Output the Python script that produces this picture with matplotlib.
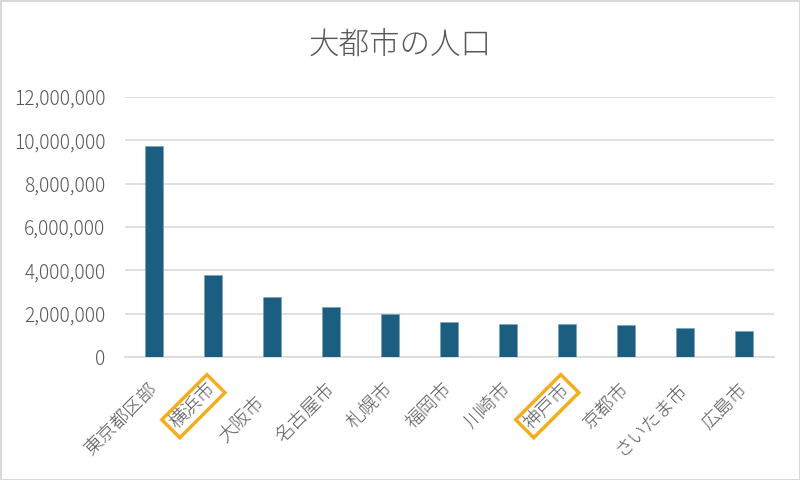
import matplotlib
matplotlib.use("Agg")
import matplotlib.pyplot as plt
from matplotlib.ticker import FuncFormatter
from matplotlib.transforms import offset_copy

plt.rcParams['font.family'] = ['Noto Sans CJK JP', 'DejaVu Sans']
plt.rcParams['font.weight'] = 'light'

cities = ["東京都区部", "横浜市", "大阪市", "名古屋市", "札幌市", "福岡市",
          "川崎市", "神戸市", "京都市", "さいたま市", "広島市"]
population = [9733276, 3777491, 2752412, 2332176, 1973395, 1612392,
              1538262, 1525152, 1463723, 1324025, 1200754]
highlighted = ["横浜市", "神戸市"]

text_color = "#595959"
grid_color = "#D9D9D9"
bar_color = "#1B5E80"
box_color = "#F2AE1C"

fig = plt.figure(figsize=(8, 4.8), dpi=100)
fig.patch.set_facecolor("white")
fig.patch.set_edgecolor(grid_color)
fig.patch.set_linewidth(2)

ax = fig.add_axes([0.156, 0.256, 0.811, 0.542])
x = list(range(len(cities)))
ax.bar(x, population, width=0.3, color=bar_color, edgecolor="#6FA3BD",
       linewidth=0.4, zorder=3)

ax.set_xlim(-0.5, len(cities) - 0.5)
ax.set_ylim(0, 12000000)
ax.set_yticks(range(0, 12000001, 2000000))
ax.yaxis.set_major_formatter(FuncFormatter(lambda v, p: f"{int(v):,}"))
ax.grid(axis="y", color=grid_color, linewidth=1.2, zorder=0)
for s in ["top", "right", "left"]:
    ax.spines[s].set_visible(False)
ax.spines["bottom"].set_color(grid_color)
ax.spines["bottom"].set_linewidth(1.2)

ax.tick_params(axis="y", length=0, pad=14, labelsize=13.8, labelcolor=text_color)
ax.tick_params(axis="x", length=0, pad=21, labelsize=13.5, labelcolor=text_color)

ax.set_xticks(x)
ax.set_xticklabels(cities, rotation=45, ha="right", va="center",
                   rotation_mode="anchor")
for lab in ax.get_xticklabels():
    if lab.get_text() in highlighted:
        lab.set_bbox(dict(boxstyle="square,pad=0.2", fc="none",
                          ec=box_color, lw=2.5))
    if lab.get_text() == "大阪市":
        lab.set_transform(offset_copy(lab.get_transform(), fig=fig,
                                      x=-11, y=-13, units="dots"))

fig.text(0.5, 0.907, "大都市の人口", ha="center", va="center",
         fontsize=22, color=text_color)

fig.savefig("out.png", dpi=100)
